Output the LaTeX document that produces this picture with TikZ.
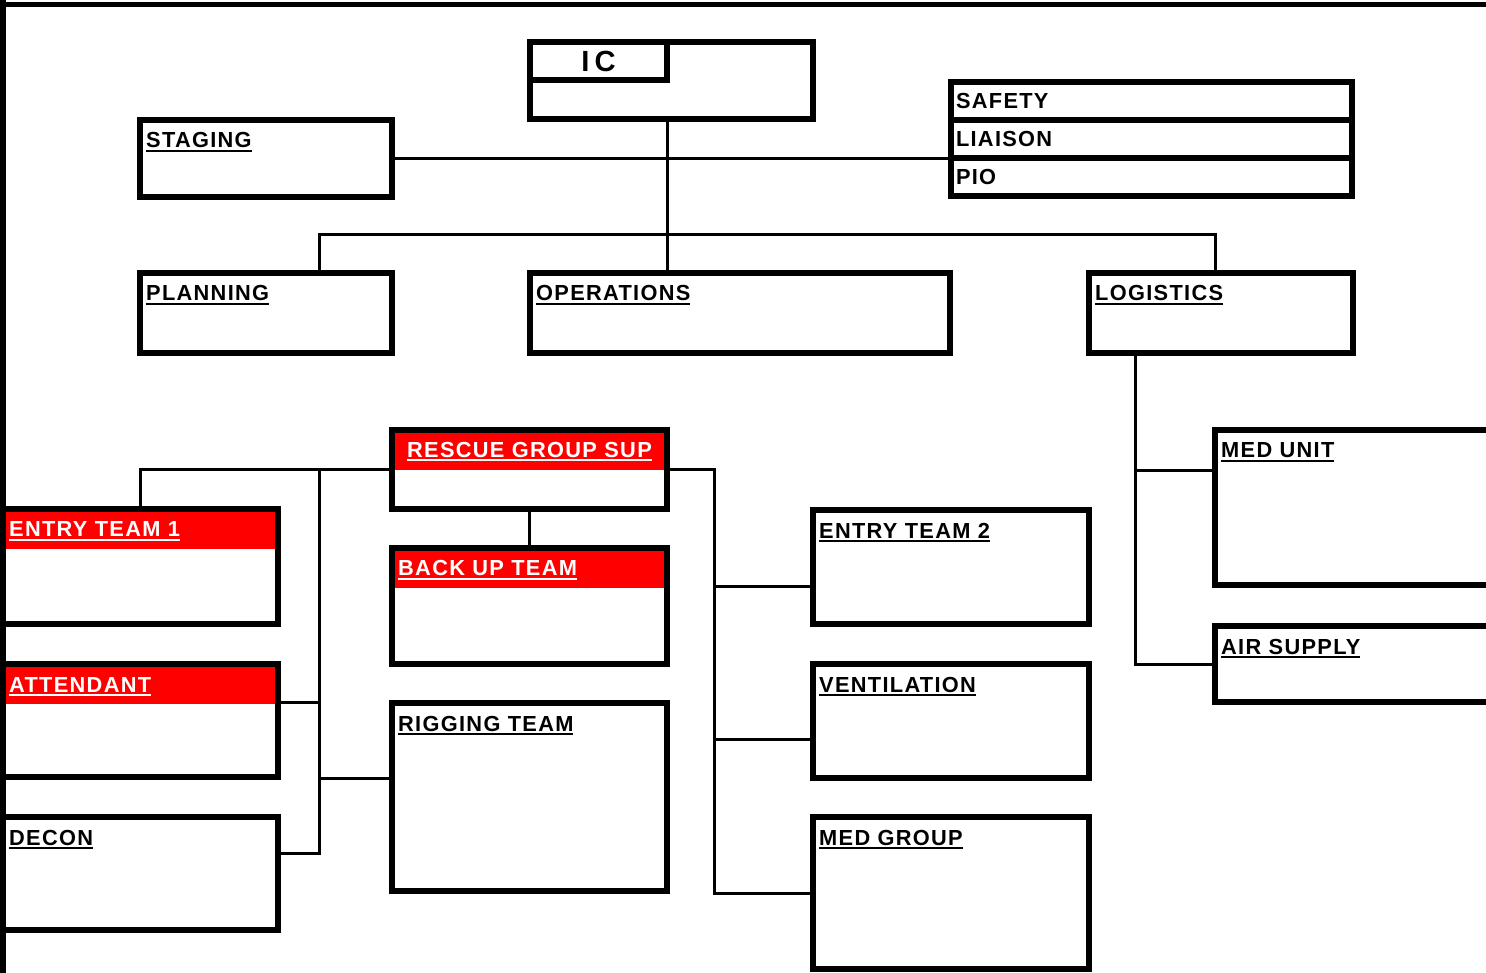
\documentclass[tikz,border=0pt]{standalone}
\usepackage{fontspec}
\usepackage{tikz}
\newfontfamily\orgfont{Liberation Sans}[LetterSpace=6]
\newcommand{\undl}[1]{\setbox0\hbox{#1}\rlap{\rule[-0.04cm]{\wd0}{0.022cm}}\box0}

\begin{document}
\begin{tikzpicture}[
  box/.style={draw, line width=0.06cm, outer sep=0pt, inner sep=0pt, anchor=north west},
  redtop/.style={path picture={\fill[red] (path picture bounding box.north west) rectangle ([yshift=-0.4cm]path picture bounding box.north east);}},
  txt/.style={font=\orgfont\bfseries\fontsize{6.2}{7}\selectfont, inner sep=0pt},
  tl/.style={txt, anchor=base west, xshift=0.055cm, yshift=-0.28cm},
  stack/.style={box, txt, minimum width=4.01cm, minimum height=0.38cm, text width=3.91cm, inner xsep=0.05cm, align=left},
  conn/.style={line width=0.03cm}]
\useasboundingbox (0,0) rectangle (14.86,-9.73);
\clip (0,0) rectangle (14.86,-9.73);
\draw[line width=0.05cm] (0,-0.045) -- (14.86,-0.045);
\draw[line width=0.06cm] (0.03,0) -- (0.03,-9.73);
\node[box, minimum width=2.83cm, minimum height=0.77cm] (icbox) at (5.30,-0.42) {};
\node[box, minimum width=1.37cm, minimum height=0.38cm, font=\orgfont\bfseries\fontsize{8.3}{9}\selectfont\addfontfeature{LetterSpace=18}] (icname) at (5.30,-0.42) {IC};
\node[box, minimum width=2.52cm, minimum height=0.77cm, label={[tl]north west:\undl{STAGING}}] (staging) at (1.40,-1.20) {};
\node[stack] (safety) at (9.51,-0.82) {SAFETY};
\node[stack] (liaison) at (9.51,-1.20) {LIAISON};
\node[stack] (pio) at (9.51,-1.58) {PIO};
\node[box, minimum width=2.52cm, minimum height=0.80cm, label={[tl]north west:\undl{PLANNING}}] (planning) at (1.40,-2.73) {};
\node[box, minimum width=4.20cm, minimum height=0.80cm, label={[tl]north west:\undl{OPERATIONS}}] (operations) at (5.30,-2.73) {};
\node[box, minimum width=2.64cm, minimum height=0.80cm, label={[tl]north west:\undl{LOGISTICS}}] (logistics) at (10.89,-2.73) {};
\node[box, redtop, minimum width=2.75cm, minimum height=0.79cm, label={[txt, white, anchor=base, yshift=-0.27cm]north:\undl{RESCUE GROUP SUP}}] (rescue) at (3.92,-4.30) {};
\node[box, redtop, minimum width=2.75cm, minimum height=1.16cm, label={[tl, white]north west:\undl{BACK UP TEAM}}] (backup) at (3.92,-5.48) {};
\node[box, minimum width=2.75cm, minimum height=1.88cm, label={[tl]north west:\undl{RIGGING TEAM}}] (rigging) at (3.92,-7.03) {};
\node[box, redtop, minimum width=2.75cm, minimum height=1.15cm, label={[tl, white]north west:\undl{ENTRY TEAM 1}}] (entry1) at (0.03,-5.09) {};
\node[box, redtop, minimum width=2.75cm, minimum height=1.13cm, label={[tl, white]north west:\undl{ATTENDANT}}] (attendant) at (0.03,-6.64) {};
\node[box, minimum width=2.75cm, minimum height=1.13cm, label={[tl]north west:\undl{DECON}}] (decon) at (0.03,-8.17) {};
\node[box, minimum width=2.76cm, minimum height=1.14cm, label={[tl]north west:\undl{ENTRY TEAM 2}}] (entry2) at (8.13,-5.10) {};
\node[box, minimum width=2.76cm, minimum height=1.14cm, label={[tl]north west:\undl{VENTILATION}}] (ventilation) at (8.13,-6.64) {};
\node[box, minimum width=2.76cm, minimum height=1.52cm, label={[tl]north west:\undl{MED GROUP}}] (medgroup) at (8.13,-8.17) {};
\node[box, minimum width=3.50cm, minimum height=1.55cm, label={[tl]north west:\undl{MED UNIT}}] (medunit) at (12.15,-4.30) {};
\node[box, minimum width=3.50cm, minimum height=0.76cm, label={[tl]north west:\undl{AIR SUPPLY}}] (airsupply) at (12.15,-6.26) {};
\coordinate (bus) at (6.67,-2.35);
\coordinate (lbus) at (3.19,-4.695);
\coordinate (rbus) at (7.14,-4.695);
\draw[conn] (icbox.south -| icname.east) -- (operations.north -| icname.east);
\draw[conn] (staging.east) -- (staging.east -| pio.west);
\draw[conn] ([xshift=0.53cm]planning.north) |- (bus) -| ([xshift=-0.06cm]logistics.north);
\draw[conn] ([xshift=-0.86cm]logistics.south) |- (airsupply.west);
\draw[conn] ([yshift=0.37cm]medunit.west) -| ([xshift=-0.86cm]logistics.south);
\draw[conn] (rescue.south) -- (backup.north);
\draw[conn] (rescue.west) -| (entry1.north);
\draw[conn] ([yshift=0.2cm]decon.east) -| (lbus);
\draw[conn] ([yshift=0.18cm]attendant.east) -- ([yshift=0.18cm]attendant.east -| lbus);
\draw[conn] ([yshift=0.19cm]rigging.west) -- ([yshift=0.19cm]rigging.west -| lbus);
\draw[conn] (rescue.east) -| (medgroup.west -| rbus) -- (medgroup.west);
\draw[conn] ([yshift=-0.19cm]entry2.west) -- ([yshift=-0.19cm]entry2.west -| rbus);
\draw[conn] ([yshift=-0.18cm]ventilation.west) -- ([yshift=-0.18cm]ventilation.west -| rbus);
\end{tikzpicture}
\end{document}
